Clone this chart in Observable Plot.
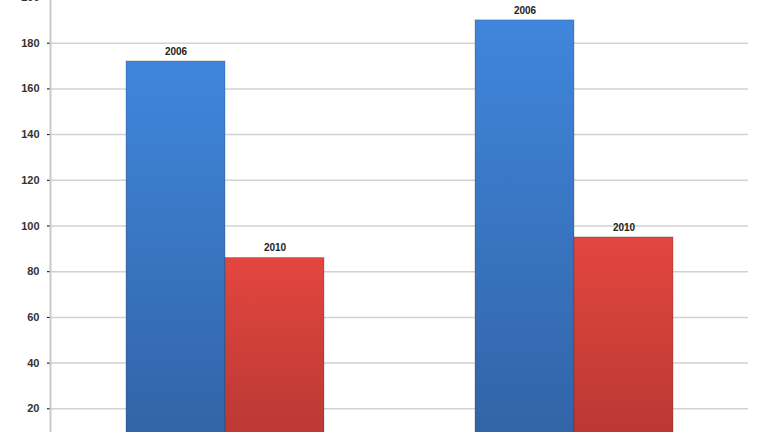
<!DOCTYPE html>
<html>
<head>
<meta charset="utf-8">
<script src="https://cdn.jsdelivr.net/npm/d3@7"></script>
<script src="https://cdn.jsdelivr.net/npm/@observablehq/plot@0.6"></script>
<style>
  html, body { margin: 0; padding: 0; background: #fff; }
  #chart svg { display: block; }
</style>
</head>
<body>
<div id="chart"></div>
<script>
// ---- data ----
const groups = ["Group 1", "Group 2"];
const years = ["2006", "2010"];
const values2006 = [172, 190];
const values2010 = [86, 95];
const yTicks = [20, 40, 60, 80, 100, 120, 140, 160, 180, 200];

const data = [];
groups.forEach((g, i) => {
  data.push({group: g, year: years[0], value: values2006[i]});
  data.push({group: g, year: years[1], value: values2010[i]});
});

const chart = Plot.plot({
  width: 768,
  height: 432,
  marginLeft: 50,
  marginRight: 20,
  marginTop: 0,
  marginBottom: 0,
  style: {fontFamily: "'Liberation Sans', Arial, sans-serif", background: "#fff"},
  fx: {domain: groups, axis: null, padding: 0, label: null},
  x: {domain: years, axis: null, paddingInner: 0, paddingOuter: 0.75, label: null},
  y: {domain: [0, 200], range: [454, -3], ticks: yTicks, tickSize: 3, tickPadding: 8, label: null},
  color: {domain: years, range: ["url(#gradBlue)", "url(#gradRed)"]},
  marks: [
    Plot.ruleY(yTicks, {stroke: "#d2d2d2", strokeWidth: 1.5}),
    Plot.frame({anchor: "left", facetAnchor: "left", stroke: "#c9c9c9", strokeWidth: 2}),
    Plot.barY(data, {fx: "group", x: "year", y: "value", fill: "year", stroke: "#2a2a2a", strokeOpacity: 0.25, strokeWidth: 1}),
    Plot.text(data, {fx: "group", x: "year", y: "value", text: "year", dy: -10, fontSize: 10, fontWeight: "bold", fill: "#222"})
  ]
});

// gradient definitions for the bar fills
const defs = d3.select(chart).insert("defs", ":first-child");
function grad(id, top, bottom) {
  const g = defs.append("linearGradient").attr("id", id)
    .attr("x1", 0).attr("y1", 0).attr("x2", 0).attr("y2", 1);
  g.append("stop").attr("offset", "0%").attr("stop-color", top);
  g.append("stop").attr("offset", "100%").attr("stop-color", bottom);
}
grad("gradBlue", "#4086dc", "#3162a4");
grad("gradRed", "#e3463f", "#b63733");

// style y-axis tick labels
d3.select(chart).selectAll("[aria-label='y-axis tick label'] text, [aria-label='y-axis tick label']")
  .attr("font-size", 11).attr("font-weight", "bold").attr("fill", "#333");
d3.select(chart).selectAll("[aria-label='y-axis tick']").attr("stroke", "#c9c9c9");

document.getElementById("chart").appendChild(chart);
</script>
</body>
</html>
